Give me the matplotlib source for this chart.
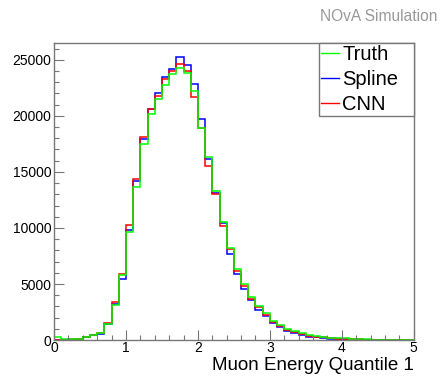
import matplotlib
matplotlib.use("Agg")
import matplotlib.pyplot as plt
import numpy as np
from matplotlib.ticker import MultipleLocator

plt.rcParams['font.family'] = ['Liberation Sans', 'DejaVu Sans']

# bin edges of the histograms (0 to 5, 50 bins)
bin_edges = np.linspace(0, 5, 51)

truth = [300, 70, 70, 100, 300, 450, 600, 1470, 3100, 5840,
         9640, 13680, 17480, 20140, 21520, 22760, 23700, 24230, 23820, 22230,
         18930, 16330, 13270, 10550, 8250, 6310, 5000, 3830, 3040, 2420,
         1710, 1330, 1000, 770, 590, 410, 350, 300, 200, 180,
         150, 120, 80, 60, 40, 20, 10, 5, 5, 0]

spline = [0, 30, 40, 80, 280, 430, 580, 1450, 3250, 5450,
          9800, 14150, 17980, 20580, 22080, 23500, 24170, 25240, 24560, 22880,
          19690, 16130, 13120, 10470, 7720, 5900, 4570, 3600, 2710, 2120,
          1530, 1120, 830, 590, 440, 300, 240, 180, 110, 90,
          60, 40, 30, 20, 10, 0, 0, 0, 0, 0]

cnn = [0, 30, 50, 90, 300, 450, 620, 1500, 3400, 5900,
       10260, 14390, 18130, 20640, 21760, 23290, 24000, 24590, 24030, 21670,
       18960, 15570, 13030, 10170, 8110, 6190, 4800, 3680, 2950, 2270,
       1620, 1240, 940, 710, 530, 360, 290, 230, 160, 130,
       100, 80, 60, 40, 30, 10, 5, 0, 0, 0]

fig = plt.figure(figsize=(4.43, 3.77), dpi=100)
fig.set_facecolor('white')
ax = fig.add_axes([0.122, 0.098, 0.812, 0.788])

ax.stairs(spline, bin_edges, color='#0000ff', lw=1.1, label='Spline')
ax.stairs(cnn, bin_edges, color='#ff0000', lw=1.1, label='CNN')
ax.stairs(truth, bin_edges, color='#00ff00', lw=1.1, label='Truth')

ax.set_xlim(0, 5)
ax.set_ylim(0, max(spline) * 1.05)

ax.xaxis.set_major_locator(MultipleLocator(1))
ax.xaxis.set_minor_locator(MultipleLocator(0.2))
ax.yaxis.set_major_locator(MultipleLocator(5000))
ax.yaxis.set_minor_locator(MultipleLocator(1000))
ax.tick_params(which='both', direction='in', top=False, right=False,
               color='#777777', labelsize=10)
ax.tick_params(which='major', length=7, width=0.8)
ax.tick_params(which='minor', length=3.5, width=0.8)
ax.tick_params(axis='x', pad=1)
ax.tick_params(axis='y', pad=2)
for s in ax.spines.values():
    s.set_color('#777777')
    s.set_linewidth(1.0)

ax.set_xlabel('Muon Energy Quantile 1', fontsize=13.5, loc='right', labelpad=1)

# legend in ROOT order, box stretched like a TLegend
h, l = ax.get_legend_handles_labels()
order = [2, 0, 1]
leg = ax.legend([h[i] for i in order], [l[i] for i in order],
                loc='upper right', bbox_to_anchor=(0.736, 0.75, 0.264, 0.25),
                mode='expand', borderaxespad=0,
                fancybox=False, edgecolor='#777777', fontsize=14.5,
                handlelength=0.9, handletextpad=0.15, labelspacing=0.28,
                borderpad=0.12, framealpha=1)
leg.get_frame().set_linewidth(1.0)
for line in leg.get_lines():
    line.set_linewidth(1.0)

fig.text(0.987, 0.955, 'NOvA Simulation', color='#999999', fontsize=11.2,
         ha='right', va='center')

fig.savefig('out.png', dpi=100)
